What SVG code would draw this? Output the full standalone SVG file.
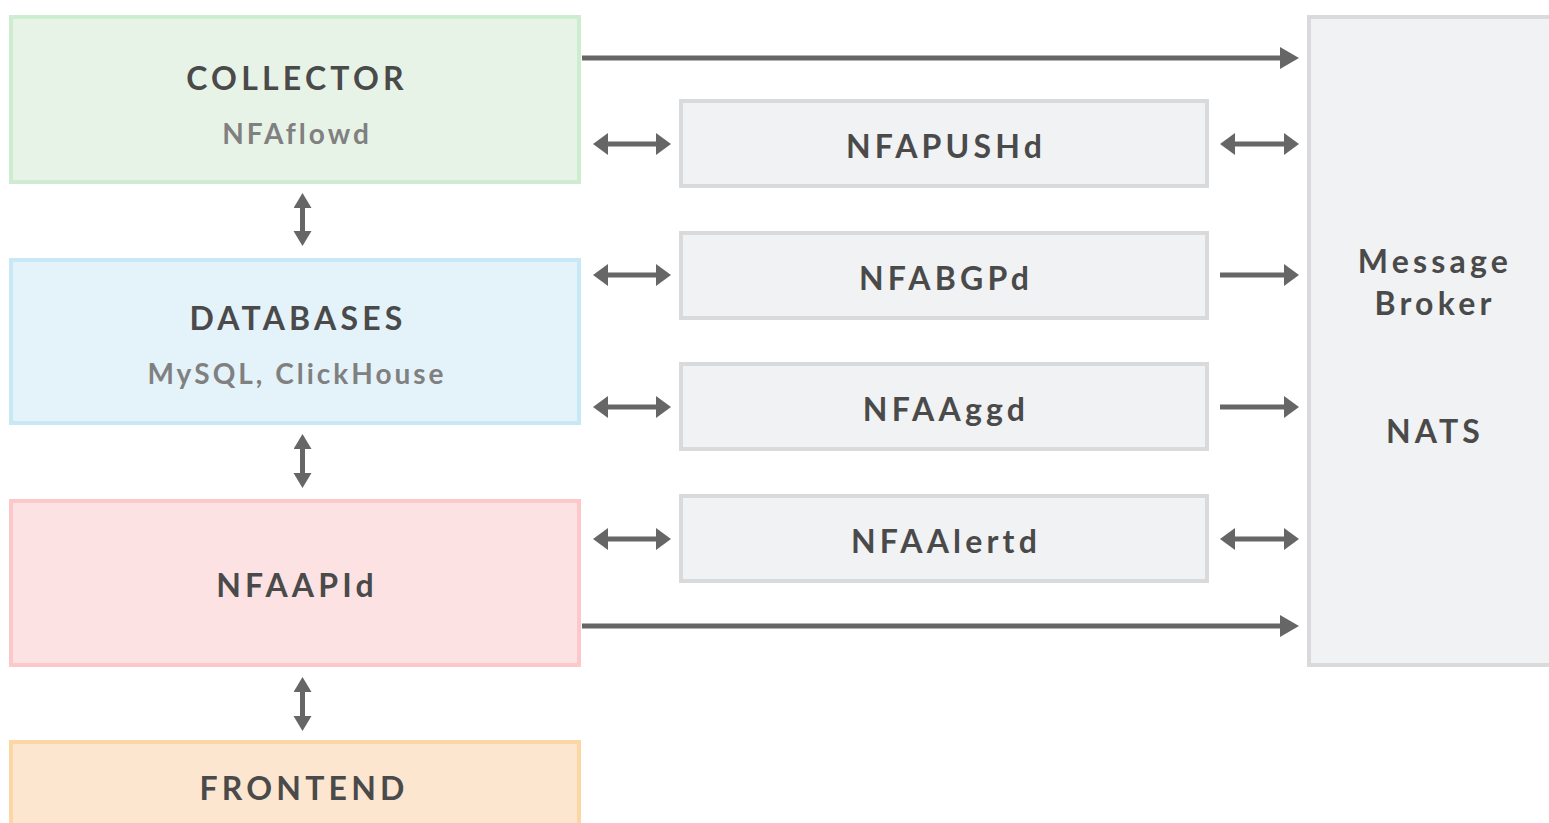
<svg xmlns="http://www.w3.org/2000/svg" width="1549" height="823" viewBox="0 0 1549 823">
<style>
.t{font-family:Lato,"Open Sans","Liberation Sans",sans-serif;font-weight:bold;font-size:32px;fill:#4a4a4a;text-anchor:middle;letter-spacing:4.2px}
.s{font-family:Lato,"Open Sans","Liberation Sans",sans-serif;font-weight:bold;font-size:28px;fill:#808080;text-anchor:middle;letter-spacing:3px}
.g{fill:#f1f2f4;stroke:#d9dadc;stroke-width:4}
.c{stroke:#666;stroke-width:5;fill:none}
</style>
<defs>
<marker id="hl" markerUnits="userSpaceOnUse" markerWidth="20" markerHeight="24" refX="0" refY="11" orient="auto-start-reverse"><path d="M0,0 L19,11 L0,22 z" fill="#666"/></marker>
<marker id="hs" markerUnits="userSpaceOnUse" markerWidth="16" markerHeight="24" refX="0" refY="11" orient="auto-start-reverse"><path d="M0,0 L15,11 L0,22 z" fill="#666"/></marker>
<marker id="hv" markerUnits="userSpaceOnUse" markerWidth="16" markerHeight="20" refX="0" refY="9" orient="auto-start-reverse"><path d="M0,0 L15,9 L0,18 z" fill="#666"/></marker>
</defs>
<g id="collector"><rect x="11" y="17" width="568" height="165" fill="#e8f3e8" stroke="#ceecd0" stroke-width="4"/><text class="t" x="297" y="90">COLLECTOR</text><text class="s" x="297" y="144">NFAflowd</text></g>
<g id="databases"><rect x="11" y="260" width="568" height="163" fill="#e4f3f9" stroke="#c9e8f5" stroke-width="4"/><text class="t" x="298" y="330">DATABASES</text><text class="s" x="297" y="384">MySQL, ClickHouse</text></g>
<g id="nfaapid"><rect x="11" y="501" width="568" height="164" fill="#fde2e3" stroke="#fcc8c9" stroke-width="4"/><text class="t" x="297" y="597">NFAAPId</text></g>
<g id="frontend"><rect x="11" y="742" width="568" height="100" fill="#fde6d0" stroke="#fdd6a6" stroke-width="4"/><text class="t" x="304" y="800">FRONTEND</text></g>
<g id="nfapushd"><rect class="g" x="681" y="101" width="526" height="85"/><text class="t" x="946" y="158">NFAPUSHd</text></g>
<g id="nfabgpd"><rect class="g" x="681" y="233" width="526" height="85"/><text class="t" x="946" y="290">NFABGPd</text></g>
<g id="nfaaggd"><rect class="g" x="681" y="364" width="526" height="85"/><text class="t" x="946" y="421">NFAAggd</text></g>
<g id="nfaalertd"><rect class="g" x="681" y="496" width="526" height="85"/><text class="t" x="946" y="553">NFAAlertd</text></g>
<g id="broker"><rect class="g" x="1309" y="17" width="260" height="648"/><text class="t" x="1435" y="273">Message</text><text class="t" x="1435" y="315">Broker</text><text class="t" x="1435" y="443">NATS</text></g>
<g id="connectors">
<path class="c" d="M582,58 H1280" marker-end="url(#hl)"/>
<path class="c" d="M582,626 H1280" marker-end="url(#hl)"/>
<path class="c" d="M608,144 H656" marker-start="url(#hs)" marker-end="url(#hs)"/>
<path class="c" d="M608,275 H656" marker-start="url(#hs)" marker-end="url(#hs)"/>
<path class="c" d="M608,407 H656" marker-start="url(#hs)" marker-end="url(#hs)"/>
<path class="c" d="M608,539 H656" marker-start="url(#hs)" marker-end="url(#hs)"/>
<path class="c" d="M1235,144 H1284" marker-start="url(#hs)" marker-end="url(#hs)"/>
<path class="c" d="M1220,275 H1284" marker-end="url(#hs)"/>
<path class="c" d="M1220,407 H1284" marker-end="url(#hs)"/>
<path class="c" d="M1235,539 H1284" marker-start="url(#hs)" marker-end="url(#hs)"/>
<path class="c" d="M302.5,208 V231" marker-start="url(#hv)" marker-end="url(#hv)"/>
<path class="c" d="M302.5,449 V473" marker-start="url(#hv)" marker-end="url(#hv)"/>
<path class="c" d="M302.5,692 V716" marker-start="url(#hv)" marker-end="url(#hv)"/>
</g>
</svg>
